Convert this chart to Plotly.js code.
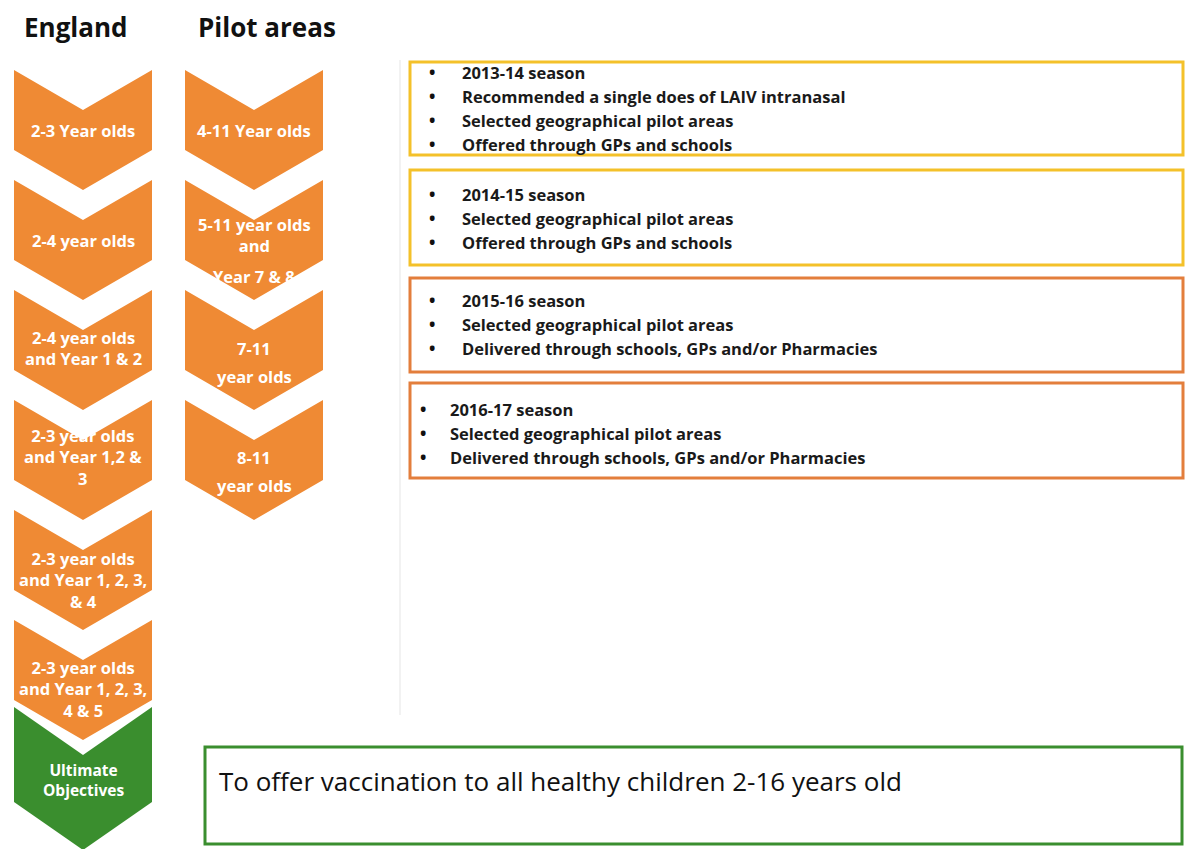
<!DOCTYPE html>
<html>
<head>
<meta charset="utf-8">
<script src="https://cdn.plot.ly/plotly-3.0.1.min.js"></script>
<style>html,body{margin:0;padding:0;background:#fff;}#chart{width:1185px;height:849px;}</style>
</head>
<body>
<div id="chart"></div>
<script>
// ---- DATA ----
const columnHeaders = ["England", "Pilot areas"];
const englandStages = [
  "2-3 Year olds",
  "2-4 year olds",
  "2-4 year olds<br>and Year 1 & 2",
  "2-3 year olds<br>and Year 1,2 &<br>3",
  "2-3 year olds<br>and Year 1, 2, 3,<br>& 4",
  "2-3 year olds<br>and Year 1, 2, 3,<br>4 & 5"
];
const objectiveStage = "Ultimate<br>Objectives";
const pilotStages = [
  ["4-11 Year olds"],
  ["5-11 year olds<br>and", "Year 7 & 8"],
  ["7-11", "year olds"],
  ["8-11", "year olds"]
];
const seasonTitles = ["2013-14 season", "2014-15 season", "2015-16 season", "2016-17 season"];
const seasonDetails = [
  ["Recommended a single does of LAIV intranasal", "Selected geographical pilot areas", "Offered through GPs and schools"],
  ["Selected geographical pilot areas", "Offered through GPs and schools"],
  ["Selected geographical pilot areas", "Delivered through schools, GPs and/or Pharmacies"],
  ["Selected geographical pilot areas", "Delivered through schools, GPs and/or Pharmacies"]
];
const objectiveText = "To offer vaccination to all healthy children 2-16 years old";

// ---- STYLE / GEOMETRY ----
const ORANGE = "#EF8A34", GREEN = "#3A8E2E", YELLOW = "#F4C12A", BOX_ORANGE = "#E37E3C";
const FONT = "'Open Sans', sans-serif";
const engCol = {l: 14, r: 152};
const pilCol = {l: 185, r: 323};
const step = 110, firstTop = 70, notch = 40, chevH = 120;
const boxTops = [62, 170, 278, 383], boxBottoms = [155, 265, 372, 478];
const boxColors = [YELLOW, YELLOW, BOX_ORANGE, BOX_ORANGE];
const firstLine = [72, 194, 300, 409];
const bulletX = [432, 432, 432, 423], textX = [460, 460, 460, 448];
const lineGap = 24;

function chevron(col, top, depth, h, color) {
  const c = (col.l + col.r) / 2;
  return {
    type: "scatter", mode: "lines", fill: "toself", fillcolor: color,
    line: {width: 0, color: color}, hoverinfo: "skip", showlegend: false,
    x: [col.l, c, col.r, col.r, c, col.l, col.l],
    y: [top, top + depth, top, top + h - depth, top + h, top + h - depth, top]
  };
}

const traces = [];
const annotations = [];
const shapes = [];

// faint divider seen in the source
shapes.push({type: "line", xref: "x", yref: "y", x0: 400, x1: 400, y0: 60, y1: 715, line: {color: "#f2f2f2", width: 2}});

// headers
annotations.push({x: 76, y: 27, text: "<b>" + columnHeaders[0] + "</b>", showarrow: false, xanchor: "center", yanchor: "middle", font: {family: FONT, size: 26, color: "#111"}});
annotations.push({x: 267, y: 27, text: "<b>" + columnHeaders[1] + "</b>", showarrow: false, xanchor: "center", yanchor: "middle", font: {family: FONT, size: 26, color: "#111"}});

// green objective chevron (drawn first, below)
const greenTop = 707;
traces.push(chevron(engCol, greenTop, 48, 143, GREEN));
annotations.push({x: (engCol.l + engCol.r) / 2, y: greenTop + 73, text: "<b>" + objectiveStage + "</b>", showarrow: false, xanchor: "center", yanchor: "middle", font: {family: FONT, size: 15.5, color: "#fff"}});

// England chevrons
const engCenters = [60, 60, 58, 57, 70, 69];
englandStages.forEach((lab, i) => {
  const top = firstTop + step * i;
  traces.push(chevron(engCol, top, notch, chevH, ORANGE));
  annotations.push({x: (engCol.l + engCol.r) / 2, y: top + engCenters[i], text: "<b>" + lab + "</b>", showarrow: false, xanchor: "center", yanchor: "middle", font: {family: FONT, size: 16.5, color: "#fff"}});
});

// Pilot chevrons
const pilotLineY = [[60], [55, 96], [58, 86], [57, 85]];
pilotStages.forEach((lines, i) => {
  const top = firstTop + step * i;
  traces.push(chevron(pilCol, top, notch, chevH, ORANGE));
  lines.forEach((ln, j) => {
    annotations.push({x: (pilCol.l + pilCol.r) / 2, y: top + pilotLineY[i][j], text: "<b>" + ln + "</b>", showarrow: false, xanchor: "center", yanchor: "middle", font: {family: FONT, size: 16.5, color: "#fff"}});
  });
});

// Season boxes
seasonTitles.forEach((t, i) => {
  shapes.push({type: "rect", xref: "x", yref: "y", x0: 410, x1: 1183, y0: boxTops[i], y1: boxBottoms[i], line: {color: boxColors[i], width: 3}, fillcolor: "rgba(0,0,0,0)"});
  const lines = [t].concat(seasonDetails[i]);
  lines.forEach((ln, j) => {
    const y = firstLine[i] + lineGap * j;
    annotations.push({x: bulletX[i], y: y, text: "<b>•</b>", showarrow: false, xanchor: "center", yanchor: "middle", font: {family: FONT, size: 17, color: "#111"}});
    annotations.push({x: textX[i], y: y, text: "<b>" + ln + "</b>", showarrow: false, xanchor: "left", yanchor: "middle", font: {family: FONT, size: 16.5, color: "#1a1a1a"}});
  });
});

// Objective box
shapes.push({type: "rect", xref: "x", yref: "y", x0: 205, x1: 1182, y0: 747, y1: 844, line: {color: GREEN, width: 3}, fillcolor: "rgba(0,0,0,0)"});
annotations.push({x: 217, y: 781, text: objectiveText, showarrow: false, xanchor: "left", yanchor: "middle", font: {family: FONT, size: 26, color: "#111"}});

const layout = {
  width: 1185, height: 849,
  margin: {l: 0, r: 0, t: 0, b: 0},
  paper_bgcolor: "#fff", plot_bgcolor: "#fff",
  xaxis: {range: [0, 1185], visible: false, fixedrange: true},
  yaxis: {range: [849, 0], visible: false, fixedrange: true},
  showlegend: false,
  shapes: shapes,
  annotations: annotations
};
Plotly.newPlot("chart", traces, layout, {staticPlot: true, displayModeBar: false});
</script>
</body>
</html>
